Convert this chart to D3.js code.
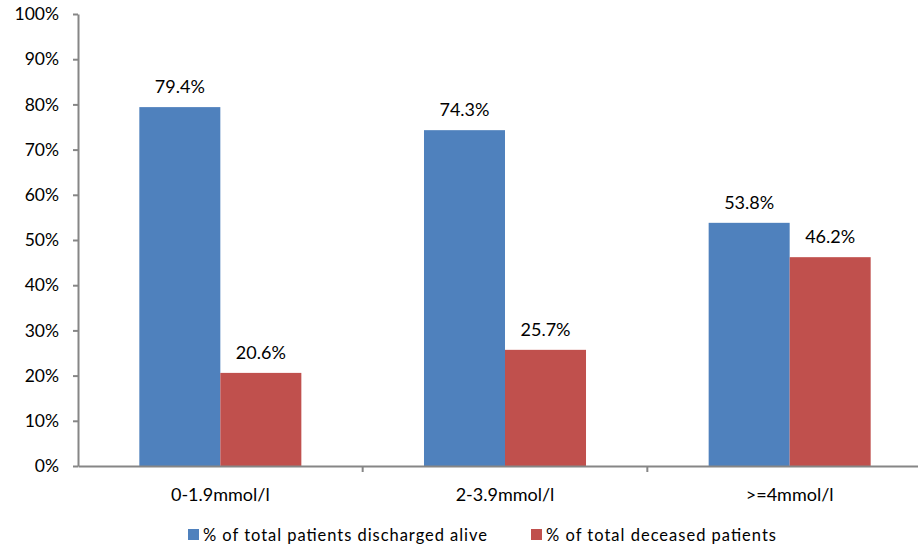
<!DOCTYPE html>
<html><head><meta charset="utf-8">
<script src="https://cdn.jsdelivr.net/npm/d3@7"></script>
<style>body{margin:0;background:#fff;}svg{display:block;font-family:Lato,"Open Sans",sans-serif;}</style>
</head><body><svg id="c" width="918" height="546"></svg>
<script>
const categories = ["0-1.9mmol/l", "2-3.9mmol/l", ">=4mmol/l"];
const seriesNames = ["% of total patients discharged alive", "% of total deceased patients"];
const alive = [79.4, 74.3, 53.8];
const deceased = [20.6, 25.7, 46.2];
const yTicks = [0, 10, 20, 30, 40, 50, 60, 70, 80, 90, 100];
const colors = ["#4F81BD", "#C0504D"];

const svg = d3.select("#c");
const x0 = 78, x1 = 932, yTop = 14, yBot = 466;
const x = d3.scaleBand().domain(categories).range([x0, x1]).paddingInner(0).paddingOuter(0);
const xs = d3.scaleBand().domain([0, 1]).range([0, x.bandwidth()]).paddingInner(0).paddingOuter(0.757);
const y = d3.scaleLinear().domain([0, 100]).range([yBot, yTop]);

const series = [alive, deceased];
const g = svg.append("g");
categories.forEach((c, i) => {
  series.forEach((s, j) => {
    g.append("rect")
      .attr("x", x(c) + xs(j))
      .attr("y", y(s[i]))
      .attr("width", xs.bandwidth())
      .attr("height", y(0) - y(s[i]))
      .attr("fill", colors[j]);
    g.append("text")
      .attr("x", x(c) + xs(j) + xs.bandwidth() / 2)
      .attr("y", y(s[i]) - 14)
      .attr("text-anchor", "middle")
      .attr("font-size", 18)
      .attr("fill", "#000")
      .text(s[i].toFixed(1) + "%");
  });
});

// y axis
const yAxis = d3.axisLeft(y).tickValues(yTicks).tickFormat(d => d + "%").tickSize(5).tickSizeOuter(0);
const ya = svg.append("g").attr("transform", `translate(${x0},0)`).call(yAxis);
ya.select(".domain").attr("stroke", "#868686").attr("stroke-width", 2);
ya.selectAll(".tick line").attr("stroke", "#868686").attr("stroke-width", 2);
ya.selectAll(".tick text").attr("font-size", 17.5).attr("fill", "#000").attr("x", -19).attr("font-family", "Lato");

// x axis
const xAxis = d3.axisBottom(x).tickSize(0).tickSizeOuter(0);
const xa = svg.append("g").attr("transform", `translate(0,${yBot})`).call(xAxis);
xa.select(".domain").attr("stroke", "#868686").attr("stroke-width", 2);
xa.selectAll(".tick text").attr("font-size", 18).attr("fill", "#000").attr("dy", 0).attr("y", 35).attr("font-family", "Lato");
const bounds = categories.map(c => x(c)).slice(1);
xa.selectAll(".bt").data(bounds).enter().append("line")
  .attr("x1", d => d).attr("x2", d => d).attr("y1", 0).attr("y2", 6)
  .attr("stroke", "#868686").attr("stroke-width", 2);

// legend
const legX = [188, 531];
const legLen = [284, 230];
const leg = svg.append("g");
seriesNames.forEach((n, j) => {
  leg.append("rect").attr("x", legX[j]).attr("y", 529).attr("width", 11).attr("height", 11).attr("fill", colors[j]);
  leg.append("text").attr("x", legX[j] + 15).attr("y", 541).attr("font-size", 16.5)
    .attr("textLength", legLen[j]).attr("lengthAdjust", "spacing")
    .attr("fill", "#000").text(n);
});
</script></body></html>
